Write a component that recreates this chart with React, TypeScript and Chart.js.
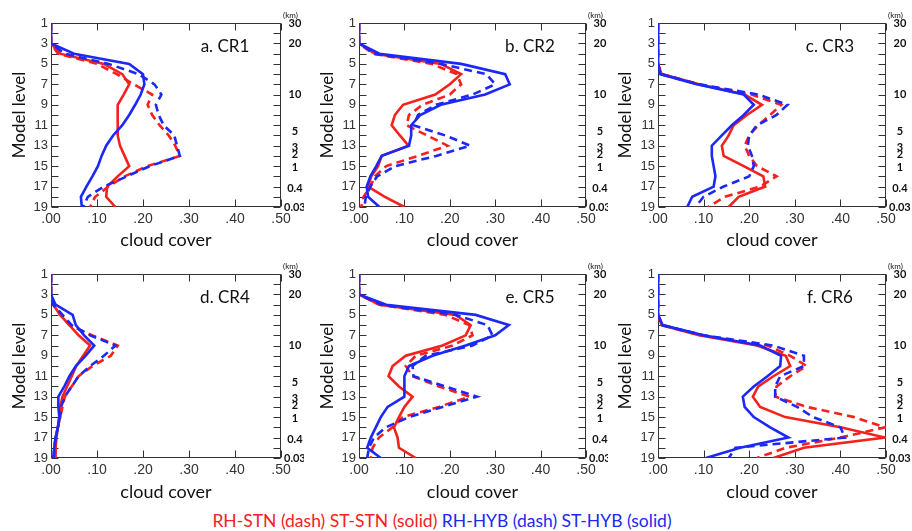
import React, { useEffect, useRef } from 'react';
import { Chart, registerables } from 'chart.js';

Chart.register(...registerables);

// ---------------- DATA ----------------
const levels = [1, 2, 3, 4, 5, 6, 7, 8, 9, 10, 11, 12, 13, 14, 15, 16, 17, 18, 19];
const xTickValues = [0, 0.1, 0.2, 0.3, 0.4, 0.5];
const xTickLabels = ['.00', '.10', '.20', '.30', '.40', '.50'];
const levelTickValues = [1, 3, 5, 7, 9, 11, 13, 15, 17, 19];
const kmTickPositions = [1, 3, 8, 11.6, 13.2, 13.9, 15.1, 17.2, 19];
const kmTickLabels = ['30', '20', '10', '5', '3', '2', '1', '0.4', '0.03'];
const seriesNames = ['RH-STN', 'ST-STN', 'RH-HYB', 'ST-HYB'];
const panelTitles = ['a. CR1', 'b. CR2', 'c. CR3', 'd. CR4', 'e. CR5', 'f. CR6'];
const xTitle = 'cloud cover';
const yTitle = 'Model level';
const kmUnit = '(km)';

// CR1
const cr1RhStn = [0, 0, 0, 0.015, 0.1, 0.143, 0.18, 0.22, 0.21, 0.22, 0.236, 0.256, 0.27, 0.28, 0.21, 0.16, 0.125, 0.096, 0.085];
const cr1StStn = [0, 0, 0, 0.02, 0.115, 0.155, 0.17, 0.158, 0.145, 0.145, 0.145, 0.145, 0.15, 0.16, 0.17, 0.145, 0.122, 0.12, 0.14];
const cr1RhHyb = [0, 0, 0, 0.03, 0.125, 0.19, 0.225, 0.24, 0.228, 0.234, 0.245, 0.268, 0.274, 0.28, 0.215, 0.165, 0.115, 0.08, 0.07];
const cr1StHyb = [0, 0, 0, 0.05, 0.17, 0.2, 0.203, 0.195, 0.183, 0.17, 0.155, 0.135, 0.12, 0.11, 0.102, 0.09, 0.077, 0.065, 0.067];
// CR2
const cr2RhStn = [0, 0, 0, 0.03, 0.16, 0.215, 0.225, 0.2, 0.14, 0.11, 0.105, 0.15, 0.195, 0.13, 0.06, 0.035, 0.025, 0.01, 0.005];
const cr2StStn = [0, 0, 0, 0.035, 0.18, 0.225, 0.2, 0.168, 0.097, 0.079, 0.072, 0.09, 0.109, 0.05, 0.042, 0.027, 0.02, 0.057, 0.1];
const cr2RhHyb = [0, 0, 0, 0.035, 0.18, 0.28, 0.3, 0.25, 0.17, 0.13, 0.12, 0.19, 0.245, 0.17, 0.08, 0.04, 0.025, 0.015, 0.012];
const cr2StHyb = [0, 0, 0, 0.045, 0.225, 0.322, 0.332, 0.278, 0.18, 0.135, 0.115, 0.115, 0.11, 0.05, 0.038, 0.025, 0.017, 0.02, 0.045];
// CR3
const cr3RhStn = [0, 0, 0, 0, 0, 0.008, 0.09, 0.205, 0.27, 0.246, 0.22, 0.2, 0.19, 0.2, 0.217, 0.26, 0.224, 0.147, 0.11];
const cr3StStn = [0, 0, 0, 0, 0, 0.008, 0.09, 0.19, 0.228, 0.195, 0.166, 0.155, 0.14, 0.144, 0.188, 0.231, 0.235, 0.177, 0.155];
const cr3RhHyb = [0, 0, 0, 0, 0, 0.005, 0.09, 0.22, 0.284, 0.26, 0.217, 0.2, 0.197, 0.206, 0.21, 0.2, 0.144, 0.1, 0.082];
const cr3StHyb = [0, 0, 0, 0, 0, 0.005, 0.085, 0.188, 0.21, 0.188, 0.162, 0.14, 0.118, 0.118, 0.122, 0.126, 0.122, 0.075, 0.064];
// CR4
const cr4RhStn = [0, 0, 0, 0.005, 0.02, 0.04, 0.09, 0.145, 0.13, 0.09, 0.06, 0.045, 0.03, 0.025, 0.02, 0.015, 0.01, 0.01, 0.01];
const cr4StStn = [0, 0, 0, 0.005, 0.02, 0.04, 0.06, 0.085, 0.07, 0.055, 0.045, 0.035, 0.025, 0.02, 0.018, 0.015, 0.012, 0.01, 0.01];
const cr4RhHyb = [0, 0, 0, 0.005, 0.025, 0.045, 0.085, 0.14, 0.115, 0.085, 0.06, 0.045, 0.03, 0.022, 0.02, 0.015, 0.01, 0.007, 0.006];
const cr4StHyb = [0, 0, 0, 0.01, 0.047, 0.054, 0.072, 0.094, 0.075, 0.054, 0.04, 0.029, 0.016, 0.016, 0.018, 0.015, 0.01, 0.007, 0.005];
// CR5
const cr5RhStn = [0, 0, 0, 0.045, 0.19, 0.243, 0.25, 0.206, 0.125, 0.103, 0.118, 0.176, 0.243, 0.176, 0.096, 0.074, 0.044, 0.03, 0.026];
const cr5StStn = [0, 0, 0, 0.045, 0.213, 0.246, 0.235, 0.184, 0.103, 0.074, 0.065, 0.088, 0.118, 0.1, 0.088, 0.077, 0.085, 0.088, 0.125];
const cr5RhHyb = [0, 0, 0, 0.05, 0.213, 0.283, 0.294, 0.25, 0.147, 0.118, 0.12, 0.19, 0.26, 0.184, 0.11, 0.059, 0.033, 0.022, 0.018];
const cr5StHyb = [0, 0, 0, 0.06, 0.257, 0.33, 0.3, 0.235, 0.162, 0.11, 0.1, 0.1, 0.1, 0.063, 0.048, 0.037, 0.026, 0.018, 0.048];
// CR6
const cr6RhStn = [0, 0, 0, 0, 0, 0.008, 0.095, 0.24, 0.29, 0.326, 0.29, 0.26, 0.257, 0.326, 0.43, 0.498, 0.4, 0.28, 0.217];
const cr6StStn = [0, 0, 0, 0, 0, 0.008, 0.09, 0.217, 0.28, 0.29, 0.253, 0.22, 0.208, 0.224, 0.279, 0.4, 0.498, 0.32, 0.253];
const cr6RhHyb = [0, 0, 0, 0, 0, 0.01, 0.1, 0.253, 0.32, 0.32, 0.268, 0.257, 0.257, 0.305, 0.34, 0.4, 0.41, 0.17, 0.155];
const cr6StHyb = [0, 0, 0, 0, 0, 0.01, 0.1, 0.224, 0.27, 0.268, 0.24, 0.21, 0.186, 0.19, 0.21, 0.246, 0.286, 0.18, 0.105];

const panelSeries = [
  [cr1RhStn, cr1StStn, cr1RhHyb, cr1StHyb],
  [cr2RhStn, cr2StStn, cr2RhHyb, cr2StHyb],
  [cr3RhStn, cr3StStn, cr3RhHyb, cr3StHyb],
  [cr4RhStn, cr4StStn, cr4RhHyb, cr4StHyb],
  [cr5RhStn, cr5StStn, cr5RhHyb, cr5StHyb],
  [cr6RhStn, cr6StStn, cr6RhHyb, cr6StHyb],
];

// ---------------- STYLE / LAYOUT ----------------
const RED = 'rgb(246,32,28)';
const BLUE = 'rgb(28,40,246)';
const FRAME = '#333';

const columns = [
  { left: 0, width: 314, leftW: 51, rightW: 23, padRight: 10, titlePad: 9 },
  { left: 304, width: 314, leftW: 55, rightW: 22, padRight: 10, titlePad: 13 },
  { left: 608, width: 304, leftW: 50, rightW: 26, padRight: 0, titlePad: 7 },
];
const rows = [
  { top: 0, height: 253, xPadBottom: 2 },
  { top: 251, height: 253, xPadBottom: 1 },
];

const framePlugin = {
  id: 'frame',
  beforeDatasetsDraw(chart: any) {
    const { ctx, chartArea } = chart;
    const { left, top, right, bottom } = chartArea;
    const xs = chart.scales.x;
    const ys = chart.scales.y;
    ctx.save();
    ctx.strokeStyle = FRAME;
    ctx.lineWidth = 1;
    const L = Math.round(left) + 0.5;
    const T = Math.round(top) + 0.5;
    const R = Math.round(right) - 0.5;
    const B = Math.round(bottom) - 0.5;
    ctx.strokeRect(L, T, R - L, B - T);
    ctx.beginPath();
    levels.forEach((l) => {
      const py = Math.round(ys.getPixelForValue(l)) + 0.5;
      ctx.moveTo(L, py);
      ctx.lineTo(L + 7, py);
      ctx.moveTo(R, py);
      ctx.lineTo(R - 7, py);
    });
    xTickValues.forEach((v) => {
      const px = Math.round(xs.getPixelForValue(v)) + 0.5;
      ctx.moveTo(px, T);
      ctx.lineTo(px, T + 7);
      ctx.moveTo(px, B);
      ctx.lineTo(px, B - 7);
    });
    ctx.stroke();
    ctx.restore();
  },
  afterDraw(chart: any, _args: any, opts: any) {
    const { ctx, chartArea } = chart;
    ctx.save();
    ctx.fillStyle = '#111';
    ctx.font = '17px Lato';
    ctx.textAlign = 'center';
    ctx.textBaseline = 'middle';
    ctx.fillText(opts.title, chartArea.right - 56, chartArea.top + 24);
    ctx.font = '8px Lato';
    ctx.textAlign = 'left';
    ctx.fillText(kmUnit, chartArea.right + 2, chartArea.top - 8);
    ctx.restore();
  },
};

function Panel({ index }: { index: number }) {
  const ref = useRef<HTMLCanvasElement | null>(null);
  const col = columns[index % 3];
  const row = rows[Math.floor(index / 3)];

  useEffect(() => {
    if (!ref.current) return;
    const [rhStn, stStn, rhHyb, stHyb] = panelSeries[index];
    const mk = (vals: number[]) => levels.map((l, i) => ({ x: vals[i], y: l }));
    const base = { pointRadius: 0, borderWidth: 2.6, fill: false, tension: 0 };
    const chart = new Chart(ref.current, {
      type: 'line',
      data: {
        datasets: [
          { ...base, label: seriesNames[3], data: mk(stHyb), borderColor: BLUE },
          { ...base, label: seriesNames[2], data: mk(rhHyb), borderColor: BLUE, borderDash: [8, 5] },
          { ...base, label: seriesNames[1], data: mk(stStn), borderColor: RED },
          { ...base, label: seriesNames[0], data: mk(rhStn), borderColor: RED, borderDash: [8, 5] },
        ],
      },
      options: {
        animation: false,
        responsive: false,
        maintainAspectRatio: false,
        layout: { padding: { top: 23, right: col.padRight, left: 0, bottom: 0 } },
        plugins: {
          legend: { display: false },
          tooltip: { enabled: false },
          frame: { title: panelTitles[index] },
        } as any,
        scales: {
          x: {
            type: 'linear',
            position: 'bottom',
            min: 0,
            max: 0.5,
            afterBuildTicks: (s: any) => {
              s.ticks = xTickValues.map((v) => ({ value: v }));
            },
            afterFit: (s: any) => {
              s.height = 46;
            },
            ticks: {
              autoSkip: false,
              maxRotation: 0,
              padding: 4,
              color: '#333',
              font: { family: 'Liberation Sans', size: 14 },
              callback: (_v: any, i: number) => xTickLabels[i],
            },
            grid: { display: false, drawTicks: false },
            border: { display: false },
            title: {
              display: true,
              text: xTitle,
              color: '#111',
              font: { family: 'Lato', size: 18 },
              padding: { top: 0, bottom: row.xPadBottom },
            },
          },
          y: {
            type: 'linear',
            position: 'left',
            min: 1,
            max: 19,
            reverse: true,
            afterBuildTicks: (s: any) => {
              s.ticks = levelTickValues.map((v) => ({ value: v }));
            },
            afterFit: (s: any) => {
              s.width = col.leftW;
            },
            ticks: {
              autoSkip: false,
              padding: 3,
              color: '#333',
              font: { family: 'Liberation Sans', size: 13 },
              callback: (_v: any, i: number) => String(levelTickValues[i]),
            },
            grid: { display: false, drawTicks: false },
            border: { display: false },
            title: {
              display: true,
              text: yTitle,
              color: '#111',
              font: { family: 'Lato', size: 17 },
              padding: { top: col.titlePad, bottom: 0 },
            },
          },
          y2: {
            type: 'linear',
            position: 'right',
            min: 1,
            max: 19,
            reverse: true,
            afterBuildTicks: (s: any) => {
              s.ticks = kmTickPositions.map((v) => ({ value: v }));
            },
            afterFit: (s: any) => {
              s.width = col.rightW;
            },
            ticks: {
              autoSkip: false,
              padding: 3,
              crossAlign: 'center',
              color: '#111',
              font: { family: 'Lato', size: 11, weight: 'bold' },
              callback: (_v: any, i: number) => kmTickLabels[i],
            },
            grid: { display: false, drawTicks: false },
            border: { display: false },
          },
        },
      } as any,
      plugins: [framePlugin as any],
    });
    return () => chart.destroy();
  }, [index]);

  return (
    <canvas
      ref={ref}
      width={col.width}
      height={row.height}
      style={{ position: 'absolute', left: col.left, top: row.top, width: col.width, height: row.height }}
    />
  );
}

export default function App() {
  return (
    <div style={{ position: 'absolute', left: 0, top: 0, width: 912, height: 531, background: '#fff', overflow: 'hidden' }}>
      {[0, 1, 2, 3, 4, 5].map((i) => (
        <Panel key={i} index={i} />
      ))}
      <div
        style={{
          position: 'absolute',
          left: 0,
          top: 510,
          width: 884,
          textAlign: 'center',
          fontFamily: 'Lato',
          fontSize: 17.5,
          lineHeight: '21px',
          whiteSpace: 'nowrap',
        }}
      >
        <span style={{ color: RED }}>RH-STN (dash) ST-STN (solid)</span>{' '}
        <span style={{ color: BLUE }}>RH-HYB (dash) ST-HYB (solid)</span>
      </div>
    </div>
  );
}
